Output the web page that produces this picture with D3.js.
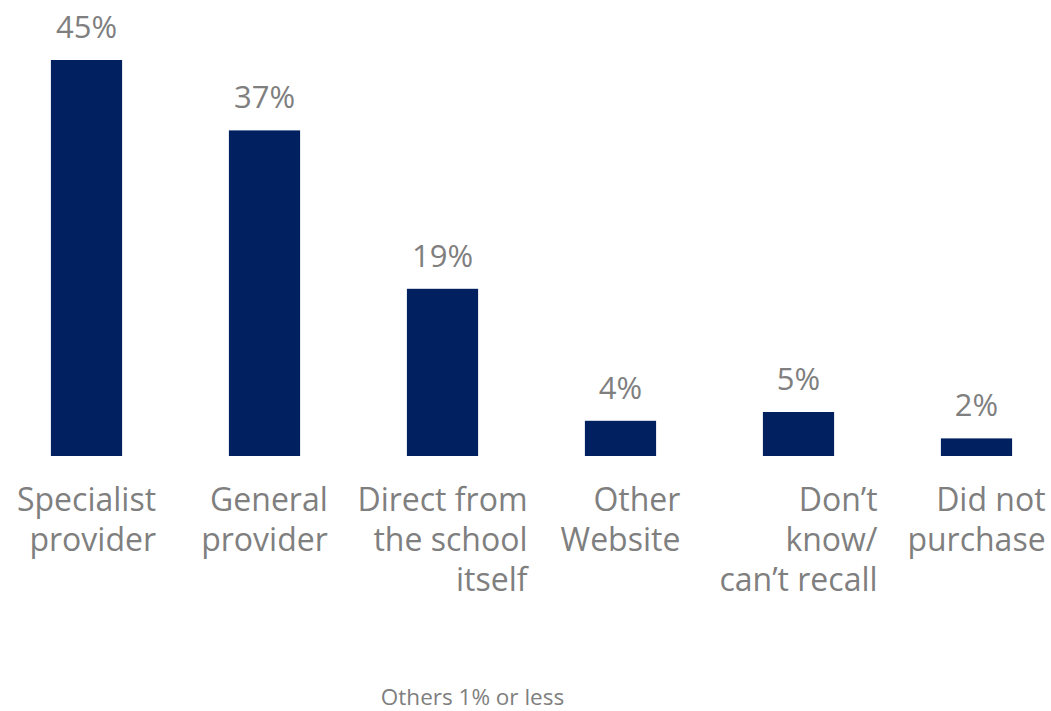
<!DOCTYPE html>
<html>
<head>
<meta charset="utf-8">
<script src="https://cdn.jsdelivr.net/npm/d3@7"></script>
<style>
  html, body { margin: 0; padding: 0; background: #fff; }
  svg { display: block; font-family: "Open Sans", "Noto Sans", sans-serif; }
</style>
</head>
<body>
<svg id="chart" width="1051" height="711"></svg>
<script>
// Where the purchase was made (share of respondents)
const categories = [
  ["Specialist", "provider"],
  ["General", "provider"],
  ["Direct from", "the school", "itself"],
  ["Other", "Website"],
  ["Don\u2019t", "know/", "can\u2019t recall"],
  ["Did not", "purchase"]
];
const values = [45, 37, 19, 4, 5, 2];
const valueLabels = ["45%", "37%", "19%", "4%", "5%", "2%"];
const footnote = "Others 1% or less";

const barColor = "#002060";
const textColor = "#7f7f7f";

const svg = d3.select("#chart");
const keys = categories.map((c, i) => i);

const x = d3.scaleBand()
  .domain(keys)
  .range([-2.5, 1065.5])
  .paddingInner(0.6)
  .paddingOuter(0.3);

const y = d3.scaleLinear()
  .domain([0, 45])
  .range([456, 60]);

// bars
svg.append("g")
  .selectAll("rect")
  .data(values)
  .join("rect")
  .attr("x", (d, i) => x(i))
  .attr("y", d => y(d))
  .attr("width", x.bandwidth())
  .attr("height", d => y(0) - y(d))
  .attr("fill", barColor);

// value labels above each bar
svg.append("g")
  .selectAll("text")
  .data(values)
  .join("text")
  .attr("x", (d, i) => x(i) + x.bandwidth() / 2)
  .attr("y", d => y(d) - 22)
  .attr("text-anchor", "middle")
  .attr("font-size", 31)
  .attr("fill", textColor)
  .text((d, i) => valueLabels[i]);

// category labels: lines right-aligned inside a block centred under the bar
const axis = svg.append("g");
categories.forEach((lines, i) => {
  const t = axis.append("text")
    .attr("font-size", 32)
    .attr("fill", textColor)
    .attr("text-anchor", "end");
  lines.forEach((line, j) => {
    t.append("tspan")
      .attr("y", 511 + j * 40)
      .text(line);
  });
  const widest = d3.max(t.selectAll("tspan").nodes(), n => n.getComputedTextLength());
  const cx = x(i) + x.bandwidth() / 2;
  t.selectAll("tspan").attr("x", cx + widest / 2);
});

svg.append("text")
  .attr("x", 472.5)
  .attr("y", 705)
  .attr("text-anchor", "middle")
  .attr("font-size", 22.5)
  .attr("fill", textColor)
  .text(footnote);
</script>
</body>
</html>
